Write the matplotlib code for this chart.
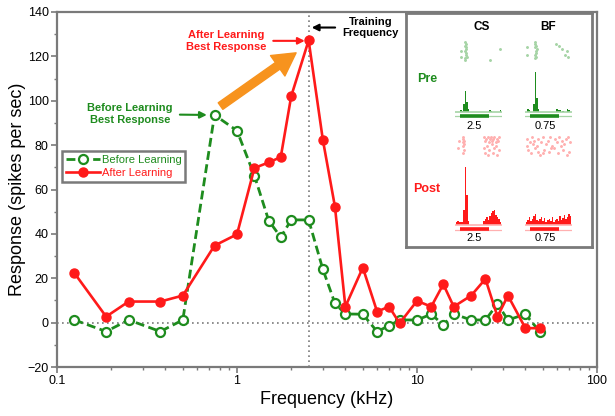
import numpy as np
import matplotlib
matplotlib.use("Agg")
import matplotlib.pyplot as plt
from matplotlib.ticker import FixedLocator, LogLocator, MultipleLocator, NullFormatter

plt.rcParams['font.family'] = ['Liberation Sans', 'DejaVu Sans']

# =====================================================
# Tuning curve data
# =====================================================

freq_khz = [0.125, 0.1875, 0.25, 0.375, 0.5, 0.75, 1, 1.25, 1.5, 1.75, 2, 2.5,
            3, 3.5, 4, 5, 6, 7, 8, 10, 12, 14, 16, 20, 24, 28, 32, 40, 48]
before = [1.2, -4, 1.2, -4, 1.2, 93.6, 86.5, 66.2, 46, 38.5, 46.3, 46.3,
          24, 8.7, 3.9, 3.8, -4, -1.4, 1.2, 1.2, 3.8, -1, 3.9, 1.2, 1.2, 8.4, 1.2, 3.8, -4]
after = [22.3, 2.7, 9.5, 9.5, 12.2, 34.7, 39.8, 69.7, 72.2, 74.6, 102, 127.2,
         82.3, 52.3, 7.2, 24.8, 5, 7.2, -0.3, 9.8, 7.2, 17.3, 7.2, 12.2, 19.7, 2.7, 12.2, -2.5, -2.5]

x_ticks = [0.1, 1, 10, 100]
x_tick_labels = ["0.1", "1", "10", "100"]
y_ticks = [-20, 0, 20, 40, 60, 80, 100, 120, 140]

training_freq = 2.5

# =====================================================
# Inset data: PSTH counts (30 bins) and raster spikes
# =====================================================

pre_cs_hist = [0, 0, 0, 2, 1, 8, 21, 10, 3, 0, 0, 0, 0, 0, 0,
               0, 0, 0, 0, 0, 0, 0, 2, 1, 0, 0, 0, 0, 0, 2]
pre_bf_hist = [0, 3, 2, 0, 0, 8, 40, 14, 3, 0, 0, 0, 0, 0, 0,
               0, 0, 0, 0, 0, 3, 2, 2, 0, 1, 0, 0, 3, 2, 0]
post_cs_hist = [3, 4, 3, 3, 3, 15, 58, 30, 4, 0.5, 0.5, 0.5, 0.5, 0.5, 0.5,
                0.5, 0.5, 0.5, 4, 6, 8, 5, 9, 12, 14, 15, 10, 8, 6, 3]
post_bf_hist = [3, 5, 8, 4, 6, 9, 11, 5, 4, 6, 8, 4, 7, 3, 5,
                6, 4, 8, 3, 5, 6, 4, 9, 5, 7, 10, 6, 8, 11, 9]

pre_cs_spk_t = [6.4, 6.7, 6.2, 6.9, 6.5, 6.3, 6.8, 6.6, 6.1, 3.2, 3.4, 22.5, 29.5, 7.3, 5.9]
pre_cs_spk_n = [11, 10, 9, 8, 7, 6, 5, 4, 2, 6, 3, 1, 7, 3, 1]
pre_bf_spk_t = [6.0, 6.4, 6.8, 6.2, 7.1, 6.5, 6.9, 6.3, 6.7, 5.8, 0.6, 0.9,
                19.9, 21.9, 23.9, 26.0, 28.0, 27.0]
pre_bf_spk_n = [11, 10, 9, 8, 7, 6, 5, 4, 3, 2, 8, 4, 10, 9, 7, 4, 3, 6]
post_cs_spk_t = [4.8, 5.1, 5.3, 4.9, 5.2, 5.0, 5.4, 4.7, 2.0, 1.2,
                 18.5, 19.2, 20.1, 21.0, 21.8, 22.5, 23.3, 24.0, 24.8, 25.5, 26.3, 27.1, 27.9, 28.6,
                 18.9, 20.5, 22.0, 23.8, 25.2, 26.8, 28.2, 19.6, 21.4, 24.4, 27.5]
post_cs_spk_n = [11, 10, 9, 8, 7, 6, 4, 2, 9, 5,
                 11, 9, 10, 11, 8, 10, 11, 9, 10, 11, 8, 10, 9, 11,
                 5, 6, 4, 7, 5, 6, 4, 2, 1, 2, 1]
post_bf_spk_t = [1.0, 2.7, 4.1, 5.6, 7.2, 8.4, 10.3, 11.6, 13.1, 14.8, 16.2, 17.4, 19.3, 20.6,
                 22.1, 23.7, 25.2, 26.4, 28.1, 29.2, 1.8, 3.3, 6.1, 7.9, 9.5, 12.2, 15.0,
                 18.3, 21.2, 24.4, 27.1, 0.6, 5.0, 11.1, 16.8, 23.0, 28.6]
post_bf_spk_n = [10, 8, 11, 9, 6, 10, 8, 11, 7, 9, 11, 6, 10, 8, 11, 9, 7, 10, 11, 8,
                 4, 2, 5, 3, 1, 4, 3, 5, 2, 4, 1, 6, 7, 2, 5, 6, 3]

stim_on, stim_off = 3, 22

# =====================================================
# Colours
# =====================================================

GREEN = "#1e8c1e"
RED = "#ff1a1a"
LIGHT_GREEN = "#a6d4a6"
LIGHT_RED = "#ffb0b0"
ORANGE = "#f7931e"
GRAY = "#7a7a7a"

W, H = 615, 416


def px_box(x0, y0, x1, y1):
    # pixel rectangle (top-left origin) -> figure fraction box
    return [x0 / W, 1 - y1 / H, (x1 - x0) / W, (y1 - y0) / H]


fig = plt.figure(figsize=(W / 100, H / 100), dpi=100)
ax = fig.add_axes(px_box(57, 12, 597, 367))

# =====================================================
# Main tuning curves
# =====================================================

ax.axhline(0, color=GRAY, ls=(0, (1, 2)), lw=1.2, zorder=1)
ax.axvline(training_freq, color=GRAY, ls=(0, (1, 2)), lw=1.2, zorder=1)

ax.plot(freq_khz, before, color=GREEN, lw=2, ls=(0, (3.2, 1.6)), marker='o', ms=6.5,
        mfc='white', mec=GREEN, mew=1.6, label="Before Learning", zorder=3)
ax.plot(freq_khz, after, color=RED, lw=1.9, marker='o', ms=6.5,
        mfc=RED, mec=RED, label="After Learning", zorder=4)

ax.set_xscale('log')
ax.set_xlim(0.1, 100)
ax.set_ylim(-20, 140)
ax.xaxis.set_major_locator(FixedLocator(x_ticks))
ax.set_xticklabels(x_tick_labels)
ax.xaxis.set_minor_locator(LogLocator(base=10, subs=range(2, 10)))
ax.xaxis.set_minor_formatter(NullFormatter())
ax.yaxis.set_major_locator(FixedLocator(y_ticks))
ax.yaxis.set_minor_locator(MultipleLocator(10))

for sp in ax.spines.values():
    sp.set_color(GRAY)
    sp.set_linewidth(1.6)
ax.tick_params(which='major', direction='out', length=4, width=1.2, color=GRAY,
               labelsize=9, pad=2)
ax.tick_params(which='minor', direction='out', length=2.5, width=1, color=GRAY)

ax.set_xlabel("Frequency (kHz)", fontsize=13, labelpad=3)
ax.set_ylabel("Response (spikes per sec)", fontsize=13, labelpad=1)

leg = ax.legend(loc='upper left', bbox_to_anchor=(0.009, 0.608), borderaxespad=0,
                fontsize=8, handlelength=3.1, handletextpad=0.15, fancybox=False,
                framealpha=1, edgecolor=GRAY, borderpad=0.35, labelspacing=0.3)
leg.get_frame().set_linewidth(1.8)
for txt, col in zip(leg.get_texts(), [GREEN, RED]):
    txt.set_color(col)

# =====================================================
# Annotations
# =====================================================

ax.annotate("After Learning\nBest Response", xy=(2.38, 127), xytext=(0.87, 127),
            ha='center', va='center', color=RED, fontsize=8, fontweight='bold',
            arrowprops=dict(arrowstyle='-|>', color=RED, lw=1.5, mutation_scale=10,
                            shrinkA=3, shrinkB=0))
ax.annotate("Before Learning\nBest Response", xy=(0.68, 93.6), xytext=(0.255, 94),
            ha='center', va='center', color=GREEN, fontsize=8, fontweight='bold',
            arrowprops=dict(arrowstyle='-|>', color=GREEN, lw=1.5, mutation_scale=10,
                            shrinkA=3, shrinkB=0))
ax.annotate("Training\nFrequency", xy=(2.6, 133), xytext=(5.5, 133),
            ha='center', va='center', color='black', fontsize=8, fontweight='bold',
            arrowprops=dict(arrowstyle='-|>', color='black', lw=1.5, mutation_scale=10,
                            shrinkA=3, shrinkB=0), annotation_clip=False)
ax.annotate("", xy=(2.13, 121.6), xytext=(0.81, 97.6),
            arrowprops=dict(arrowstyle='simple,head_length=0.9,head_width=1.0,tail_width=0.32',
                            color=ORANGE, mutation_scale=18, shrinkA=0, shrinkB=0))

# =====================================================
# Inset: rasters and PSTHs
# =====================================================

inset = fig.add_axes(px_box(406, 13, 592, 247))
inset.set_xticks([])
inset.set_yticks([])
for sp in inset.spines.values():
    sp.set_color(GRAY)
    sp.set_linewidth(2)


def draw_hist(box, base_px, counts, color, light):
    x0, y0, x1, y1 = box
    hx = fig.add_axes(px_box(*box))
    hx.bar(np.arange(len(counts)), counts, width=1.0, align='edge', color=color, lw=0)
    hx.axhline(0, color=light, lw=1.2)
    hx.axhline(-4.5, color=light, lw=0.9)
    hx.plot([stim_on, stim_off], [-4, -4], color=color, lw=2.6, solid_capstyle='butt')
    hx.set_xlim(-0.5, 30.5)
    hx.set_ylim(-(y1 - base_px), base_px - y0)
    hx.axis('off')


def draw_raster(box, t, n, light):
    rx = fig.add_axes(px_box(*box))
    rx.plot(t, n, ls='none', marker='o', ms=1.1, mfc=light, mec=light)
    rx.set_xlim(-0.5, 30.5)
    rx.set_ylim(0, 12)
    rx.axis('off')


draw_raster((455, 40, 502, 62), pre_cs_spk_t, pre_cs_spk_n, LIGHT_GREEN)
draw_raster((525, 40, 572, 62), pre_bf_spk_t, pre_bf_spk_n, LIGHT_GREEN)
draw_raster((455, 135, 502, 157), post_cs_spk_t, post_cs_spk_n, LIGHT_RED)
draw_raster((525, 135, 572, 157), post_bf_spk_t, post_bf_spk_n, LIGHT_RED)

draw_hist((455, 64, 502, 119), 111.7, pre_cs_hist, GREEN, LIGHT_GREEN)
draw_hist((525, 64, 572, 119), 111.7, pre_bf_hist, GREEN, LIGHT_GREEN)
draw_hist((455, 160, 502, 232), 225, post_cs_hist, RED, LIGHT_RED)
draw_hist((525, 160, 572, 232), 225, post_bf_hist, RED, LIGHT_RED)

fig.text(482 / W, 1 - 27 / H, "CS", ha='center', va='center', fontsize=8.5, fontweight='bold')
fig.text(548 / W, 1 - 27 / H, "BF", ha='center', va='center', fontsize=8.5, fontweight='bold')
fig.text(427 / W, 1 - 79 / H, "Pre", ha='center', va='center', fontsize=9,
         fontweight='bold', color=GREEN)
fig.text(427 / W, 1 - 189 / H, "Post", ha='center', va='center', fontsize=9,
         fontweight='bold', color=RED)
for yy in (126, 238):
    fig.text(474 / W, 1 - yy / H, "2.5", ha='center', va='center', fontsize=8)
    fig.text(545 / W, 1 - yy / H, "0.75", ha='center', va='center', fontsize=8)

fig.savefig("out.png", dpi=100)
